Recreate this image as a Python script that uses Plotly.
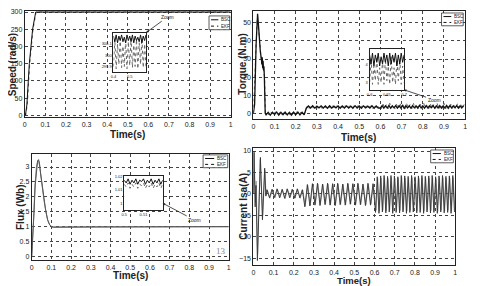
import numpy as np
import plotly.graph_objects as go

# page body has an 8px margin: figure is drawn 8px right/down of the window origin
OFF = 8
W, H = 480 - OFF, 286 - OFF
def px(x): return min(max((x - OFF) / W, 0), 1)
def py(y): return min(max(1 - (y - OFF) / H, 0), 1)

# ---------------- data ----------------
# Speed (rad/s)
speed_t_bsc = [0, 0.003, 0.010, 0.022, 0.038, 0.053, 1.0]
speed_bsc   = [0, 0, 30, 150, 250, 300, 300]
speed_t_ekf = [0, 0.004, 0.012, 0.024, 0.040, 0.055, 1.0]
speed_ekf   = [0, 0, 30, 150, 250, 300, 300]

# Torque (N.m) start-up
torque_t_start_bsc = [0, 0.006, 0.013, 0.020, 0.024, 0.028, 0.033, 0.038, 0.040, 0.042, 0.044, 0.046, 0.048, 0.050, 0.052, 0.054, 0.056]
torque_start_bsc   = [0, 5, 38, 55, 49, 41, 34, 30, 27, 31, 25, 29, 24, 26, 20, 12, 0]
torque_t_start_ekf = [0, 0.004, 0.010, 0.018, 0.022, 0.027, 0.032, 0.038, 0.045, 0.050, 0.053, 0.057]
torque_start_ekf   = [0, 10, 30, 52, 50, 42, 35, 29, 26, 22, 20, 0]
# Torque ripple samples
torque_seg1_bsc = [-0.8, 0.6, -0.9, 0.7, -0.6, 0.8, -0.9, 0.6, -0.7, 0.8, -0.8, 0.6, -0.9, 0.7, -0.7, 0.8, -0.8, 0.6, -0.7]
torque_seg2_bsc = [2.9, 4.1, 3.0, 4.2, 2.9, 4.0, 3.1, 4.2, 3.0, 4.1, 2.9, 4.2, 3.0, 4.0, 3.1, 4.2, 2.9, 4.1, 3.0, 4.2,
                   3.0, 4.0, 2.9, 4.3, 3.0, 4.1, 2.9, 4.2, 3.1, 4.0, 3.0, 4.2, 2.9, 4.1, 3.0]
torque_seg3_bsc = [3.0, 4.3, 2.9, 4.2, 3.0, 4.4, 2.9, 4.2, 3.1, 4.3, 2.9, 4.2, 3.0, 4.4, 2.9, 4.3, 3.0, 4.2, 2.9, 4.3,
                   3.1, 4.2, 2.9, 4.4, 3.0, 4.2, 2.9, 4.3, 3.0, 4.2, 3.1, 4.4, 2.9, 4.2, 3.0, 4.3, 2.9, 4.2, 3.0, 4.4,
                   2.9, 4.3, 3.0, 4.2, 3.1, 4.3, 2.9, 4.2, 3.0, 4.3]
torque_seg1_ekf = [0.7, -0.9, 0.8, -0.7, 0.9, -0.8, 0.6, -0.9, 0.8, -0.7, 0.7, -0.9, 0.8, -0.6, 0.9, -0.8, 0.7, -0.9, 0.6]
torque_seg2_ekf = [4.2, 2.8, 4.3, 2.9, 4.1, 3.0, 4.3, 2.8, 4.2, 3.0, 4.1, 2.9, 4.3, 2.8, 4.2, 3.0, 4.1, 2.9, 4.3, 2.8,
                   4.2, 3.0, 4.1, 2.9, 4.3, 2.8, 4.2, 3.0, 4.1, 2.9, 4.3, 2.8, 4.2, 3.0, 4.1]
torque_seg3_ekf = [2.6, 5.2, 2.8, 4.8, 2.5, 5.6, 2.9, 4.6, 2.6, 5.0, 2.7, 5.8, 2.8, 4.7, 2.5, 5.3, 2.9, 4.9, 2.6, 5.5,
                   2.7, 4.8, 2.8, 5.1, 2.5, 5.7, 2.9, 4.6, 2.6, 5.2, 2.7, 4.9, 2.8, 5.4, 2.5, 4.8, 2.9, 5.6, 2.6, 4.7,
                   2.7, 5.1, 2.8, 5.0, 2.5, 5.5, 2.9, 4.8, 2.6, 5.2]

# Flux (Wb)
flux_t_bsc = [0, 0.003, 0.006, 0.012, 0.018, 0.025, 0.030, 0.035, 0.040, 0.045, 0.050, 0.055, 0.060, 0.070, 0.080, 0.090, 0.100, 0.110, 0.300, 1.0]
flux_bsc   = [0, 0.3, 0.65, 1.5, 2.4, 3.0, 3.2, 3.25, 3.1, 2.8, 2.55, 2.3, 2.05, 1.6, 1.25, 1.08, 1.0, 0.98, 0.99, 1.0]
flux_t_ekf = [0, 0.002, 0.005, 0.010, 0.016, 0.024, 0.031, 0.036, 0.042, 0.048, 0.055, 0.062, 0.072, 0.082, 0.092, 0.105, 0.250, 1.0]
flux_ekf   = [0, 0.2, 0.6, 1.3, 2.3, 3.0, 3.22, 3.2, 2.95, 2.6, 2.25, 1.9, 1.5, 1.2, 1.05, 0.99, 0.99, 1.0]

# Current Isa (A) start-up
cur_t_start_bsc = [0, 0.003, 0.009, 0.013, 0.020, 0.035, 0.045, 0.056, 0.062]
cur_start_bsc   = [0, 10, -3, 2, -15.5, 8.5, -6, 6, -0.5]
cur_t_start_ekf = [0, 0.004, 0.010, 0.014, 0.021, 0.034, 0.046, 0.057, 0.063]
cur_start_ekf   = [0, 9.5, -2, 3, -14, 8, -5, 5.5, -0.3]
# Current oscillation peaks
cur_osc1_bsc = [1.0, -0.9, 1.1, -0.8, 1.2, -0.9, 1.1, -1.0, 1.2, -0.9, 1.1, -1.0, 1.2, -0.9, 1.0,
                -3.0, 2.2, -2.8, 2.4, -2.6, 2.5, -2.7, 2.3, -2.5, 2.5, -2.6, 2.4, -2.7, 2.5, -2.5, 2.3,
                -2.6, 2.5, -2.4, 2.4, -2.6, 2.5, -2.5, 2.3, -2.7, 2.5, -2.6, 2.4]
cur_osc2_bsc = [-4.3, 4.0, -4.5, 4.2, -4.2, 4.3, -4.4, 4.1, -4.2, 4.3, -4.5, 4.2, -4.3, 4.0, -4.4, 4.3, -4.2, 4.2,
                -4.5, 4.1, -4.3, 4.3, -4.2, 4.0, -4.4, 4.2, -4.3, 4.3, -4.5, 4.1, -4.2, 4.2, -4.4, 4.3, -4.3, 4.0,
                -4.5, 4.2, -4.2, 4.3, -4.4, 4.1, -4.3, 4.2, -4.5, 4.3, -4.2]
cur_osc1_ekf = [0.9, -1.0, 1.0, -0.9, 1.1, -0.8, 1.0, -1.1, 1.1, -0.8, 1.0, -0.9, 1.1, -1.0, 0.9,
                -2.7, 2.0, -2.6, 2.3, -2.4, 2.3, -2.5, 2.2, -2.4, 2.3, -2.5, 2.2, -2.5, 2.3, -2.4, 2.2,
                -2.5, 2.3, -2.3, 2.2, -2.4, 2.3, -2.4, 2.2, -2.5, 2.3, -2.4, 2.2]
cur_osc2_ekf = [-3.8, 3.6, -4.0, 3.7, -3.8, 3.8, -3.9, 3.6, -3.7, 3.8, -4.0, 3.7, -3.8, 3.6, -3.9, 3.8, -3.7, 3.7,
                -4.0, 3.6, -3.8, 3.8, -3.7, 3.6, -3.9, 3.7, -3.8, 3.8, -4.0, 3.6, -3.7, 3.7, -3.9, 3.8, -3.8, 3.6,
                -4.0, 3.7, -3.7, 3.8, -3.9, 3.6, -3.8, 3.7, -4.0, 3.8, -3.7]

# Zoom insets
ins1_bsc = [300.17, 300.12, 300.18, 300.11, 300.17, 300.13, 300.18, 300.12, 300.16, 300.11, 300.18, 300.13, 300.17,
            300.12, 300.18, 300.11, 300.17, 300.13, 300.16, 300.12, 300.18, 300.11, 300.17, 300.13, 300.18]
ins1_ekf = [299.90, 300.14, 299.88, 300.10, 299.92, 300.15, 299.89, 300.08, 299.90, 300.13, 299.88, 300.12, 299.91,
            300.15, 299.89, 300.09, 299.90, 300.14, 299.88, 300.11, 299.92, 300.15, 299.89, 300.10, 299.90]
ins2_bsc = [4.5, 4.0, 4.6, 3.9, 4.5, 4.1, 4.6, 3.9, 4.4, 4.0, 4.6, 4.1, 4.5, 3.9, 4.6, 4.0, 4.5, 4.1, 4.6, 3.9,
            4.5, 4.0, 4.6, 4.1, 4.5]
ins2_ekf = [3.0, 4.3, 2.9, 3.9, 3.1, 4.4, 2.9, 3.8, 3.0, 4.2, 2.9, 4.3, 3.1, 3.9, 2.9, 4.4, 3.0, 3.8, 2.9, 4.2,
            3.1, 4.3, 2.9, 3.9, 3.0]
ins3_bsc = [1.017, 1.015, 1.018, 1.014, 1.017, 1.015, 1.018, 1.014, 1.017, 1.016, 1.018, 1.014, 1.017, 1.015,
            1.018, 1.014, 1.017, 1.015, 1.018, 1.014, 1.017]
ins3_ekf = [1.014, 1.012, 1.015, 1.011, 1.014, 1.012, 1.015, 1.011, 1.014, 1.013, 1.015, 1.011, 1.014, 1.012,
            1.015, 1.011, 1.014, 1.012, 1.015, 1.011, 1.014]

time_ticks = [0, 0.1, 0.2, 0.3, 0.4, 0.5, 0.6, 0.7, 0.8, 0.9, 1]
time_labels = ["0", "0.1", "0.2", "0.3", "0.4", "0.5", "0.6", "0.7", "0.8", "0.9", "1"]

# ------------- assemble series (sample instants) -------------
def grid(start, step, n):
    return [round(start + step * k, 5) for k in range(n)]

tq_seg1_t = grid(0.06, 0.01, len(torque_seg1_bsc))
tq_seg2_t = grid(0.25, 0.01, len(torque_seg2_bsc))
tq_seg3_t = grid(0.60, 0.008, len(torque_seg3_bsc))
torque_t_bsc = torque_t_start_bsc + tq_seg1_t + tq_seg2_t + tq_seg3_t
torque_bsc = torque_start_bsc + torque_seg1_bsc + torque_seg2_bsc + torque_seg3_bsc
torque_t_ekf = torque_t_start_ekf + [t + 0.004 for t in tq_seg1_t + tq_seg2_t + tq_seg3_t]
torque_ekf = torque_start_ekf + torque_seg1_ekf + torque_seg2_ekf + torque_seg3_ekf

c1_t = grid(0.0675, 0.0125, len(cur_osc1_bsc))
c2_t = grid(0.605, 0.0085, len(cur_osc2_bsc))
cur_t_bsc = cur_t_start_bsc + c1_t + c2_t
cur_bsc = cur_start_bsc + cur_osc1_bsc + cur_osc2_bsc
cur_t_ekf = cur_t_start_ekf + [t + 0.002 for t in c1_t + c2_t]
cur_ekf = cur_start_ekf + cur_osc1_ekf + cur_osc2_ekf

ins1_t = list(np.linspace(0.4, 0.6, len(ins1_bsc)))
ins2_t = list(np.linspace(0.6, 0.7, len(ins2_bsc)))
ins3_t = list(np.linspace(0.5, 0.52, len(ins3_bsc)))

# ---------------- figure ----------------
BSC = dict(color="#111111", width=1)
EKF = dict(color="#666666", width=1, dash="dot")
FONT = "Liberation Sans Narrow, Liberation Sans, Arial"
TFONT = dict(size=10, family="Liberation Sans, Arial", color="#222")

fig = go.Figure()
def add(x, y, xa, ya, line):
    fig.add_trace(go.Scatter(x=x, y=y, xaxis=xa, yaxis=ya, mode="lines", line=line,
                             showlegend=False, hoverinfo="skip"))

add(speed_t_ekf, speed_ekf, "x", "y", EKF)
add(speed_t_bsc, speed_bsc, "x", "y", BSC)
add(torque_t_ekf, torque_ekf, "x2", "y2", EKF)
add(torque_t_bsc, torque_bsc, "x2", "y2", dict(color="#111111", width=1.3))
add(flux_t_ekf, flux_ekf, "x3", "y3", dict(color="#777777", width=1))
add(flux_t_bsc, flux_bsc, "x3", "y3", dict(color="#555555", width=1))
add(cur_t_ekf, cur_ekf, "x4", "y4", dict(color="#999999", width=0.9))
add(cur_t_bsc, cur_bsc, "x4", "y4", dict(color="#333333", width=0.9))
add(ins1_t, ins1_ekf, "x5", "y5", EKF)
add(ins1_t, ins1_bsc, "x5", "y5", BSC)
add(ins2_t, ins2_ekf, "x6", "y6", EKF)
add(ins2_t, ins2_bsc, "x6", "y6", BSC)
add(ins3_t, ins3_ekf, "x7", "y7", EKF)
add(ins3_t, ins3_bsc, "x7", "y7", BSC)

def main_x(domain, anchor):
    return dict(domain=domain, anchor=anchor, range=[0, 1], tickvals=time_ticks, ticktext=time_labels,
                showgrid=True, gridcolor="#444444", griddash="dot", gridwidth=0.7,
                showline=True, linecolor="#222222", linewidth=1, mirror=True, zeroline=False,
                ticks="", ticklabeloverflow="allow", tickfont=dict(size=7, family=FONT, color="#222"))

def main_y(domain, anchor, rng, ticks):
    return dict(domain=domain, anchor=anchor, range=rng, tickvals=ticks,
                showgrid=True, gridcolor="#444444", griddash="dot", gridwidth=0.7,
                showline=True, linecolor="#222222", linewidth=1, mirror=True, zeroline=False,
                ticks="", ticklabeloverflow="allow", tickfont=dict(size=7, family=FONT, color="#222"))

def inset_ax(domain, anchor, rng, tv, tt):
    return dict(domain=domain, anchor=anchor, range=rng, tickvals=tv, ticktext=tt, showgrid=False,
                showline=True, linecolor="#222", linewidth=1, mirror=True, zeroline=False, ticks="",
                tickfont=dict(size=4, family=FONT, color="#222"))

fig.update_layout(
    width=W, height=H, margin=dict(l=0, r=0, t=0, b=0),
    paper_bgcolor="white", plot_bgcolor="white", showlegend=False,
    xaxis=main_x([px(22), px(231)], "y"),
    yaxis=main_y([py(116), py(8)], "x", [-6, 303], [0, 50, 100, 150, 200, 250, 300]),
    xaxis2=main_x([px(254), px(469)], "y2"),
    yaxis2=main_y([py(118), py(8)], "x2", [-3.3, 56.5], [0, 10, 20, 30, 40, 50]),
    xaxis3=main_x([px(29), px(229)], "y3"),
    yaxis3=main_y([py(261), py(153)], "x3", [-0.13, 3.44], [0, 0.5, 1, 1.5, 2, 2.5, 3]),
    xaxis4=main_x([px(254), px(459)], "y4"),
    yaxis4=main_y([py(266), py(147)], "x4", [-16.6, 10.7], [-15, -10, -5, 0, 5, 10]),
    xaxis5=inset_ax([px(112), px(145)], "y5", [0.4, 0.6], [0.4, 0.5], ["0.4", "0.5"]),
    yaxis5=inset_ax([py(70), py(30)], "x5", [299.85, 300.2], [299.9, 300, 300.1], ["299.9", "300", "300.1"]),
    xaxis6=inset_ax([px(372), px(407)], "y6", [0.6, 0.7], [0.6, 0.65, 0.7], ["0.6", "0.65", "0.7"]),
    yaxis6=inset_ax([py(88), py(47)], "x6", [2.6, 4.8], [3, 4], ["3", "4"]),
    xaxis7=inset_ax([px(123), px(162)], "y7", [0.5, 0.52], [0.5, 0.51], ["0.5", "0.51"]),
    yaxis7=inset_ax([py(210), py(175)], "x7", [0.9949, 1.0204], [1, 1.01, 1.02], ["1", "1.01", "1.02"]),
)

# white backgrounds behind insets (cover main grid) -- drawn in each inset subplot's lower shape layer
for n in (5, 6, 7):
    xr = fig.layout[f"xaxis{n}"].range
    yr = fig.layout[f"yaxis{n}"].range
    fig.add_shape(type="rect", xref=f"x{n}", yref=f"y{n}", x0=xr[0], x1=xr[1], y0=yr[0], y1=yr[1],
                  fillcolor="white", line=dict(width=0), layer="below")

# axis titles
def xtitle(cx, cy, size=10):
    fig.add_annotation(xref="paper", yref="paper", x=px(cx), y=py(cy), text="<b>Time(s)</b>", showarrow=False,
                       xanchor="center", yanchor="middle", font=dict(TFONT, size=size))
def ytitle(cx, cy, txt):
    fig.add_annotation(xref="paper", yref="paper", x=px(cx), y=py(cy), text="<b>" + txt + "</b>", showarrow=False,
                       textangle=-90, xanchor="center", yanchor="middle", font=TFONT)

xtitle(126, 133)
xtitle(361, 136)
xtitle(129, 276)
xtitle(356, 281, 9.5)
ytitle(9, 62, "Speed (rad/s)")
ytitle(243, 62, "Torque (N.m)")
ytitle(17, 207, "Flux (Wb)")
ytitle(244, 206, "Current Isa(A)")

# legends (box + samples + labels)
def legend_box(x0, y0, x1, y1):
    fig.add_shape(type="rect", xref="paper", yref="paper", x0=px(x0), x1=px(x1), y0=py(y1), y1=py(y0),
                  fillcolor="white", line=dict(color="#333", width=0.8), layer="above")
    ya = y0 + (y1 - y0) * 0.28
    yb = y0 + (y1 - y0) * 0.74
    xs0, xs1 = x0 + 2, x0 + (x1 - x0) * 0.45
    fig.add_shape(type="line", xref="paper", yref="paper", x0=px(xs0), x1=px(xs1), y0=py(ya), y1=py(ya),
                  line=dict(color="#111", width=1), layer="above")
    fig.add_shape(type="line", xref="paper", yref="paper", x0=px(xs0), x1=px(xs1), y0=py(yb), y1=py(yb),
                  line=dict(color="#111", width=1, dash="dot"), layer="above")
    for txt, yy in (("BSC", ya), ("EKF", yb)):
        fig.add_annotation(xref="paper", yref="paper", x=px(xs1 + 1), y=py(yy), text=txt, showarrow=False,
                           xanchor="left", yanchor="middle", font=dict(size=4.5, family=FONT, color="#222"))

legend_box(209, 13, 230, 27)
legend_box(445, 10, 467, 23)
legend_box(203, 154, 228, 167)
legend_box(434, 149, 457, 162)

# "Zoom" call-outs
def zoom_note(tipx, tipy, ax, ay):
    fig.add_annotation(xref="paper", yref="paper", x=px(tipx), y=py(tipy), ax=ax, ay=ay, text="Zoom",
                       showarrow=True, arrowhead=2, arrowsize=0.6, arrowwidth=0.8, arrowcolor="#222",
                       font=dict(size=5, family=FONT, color="#222"))

zoom_note(145, 30, 22, -16)
zoom_note(407, 88, 30, 10)
zoom_note(162, 203, 32, 17)

fig.add_annotation(xref="paper", yref="paper", x=px(221), y=py(259), text="13", showarrow=False,
                   font=dict(size=9, family="Liberation Serif, serif", color="#888"))

fig.write_html("out.html")
